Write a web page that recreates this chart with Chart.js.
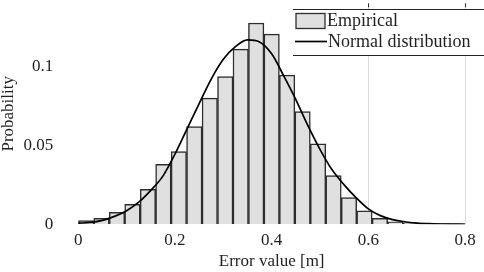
<!DOCTYPE html>
<html>
<head>
<meta charset="utf-8">
<script src="https://cdn.jsdelivr.net/npm/chart.js@4"></script>
<style>
  html, body { margin: 0; padding: 0; background: #fff; }
</style>
</head>
<body>
<canvas id="chart" width="484" height="272"></canvas>
<script>
// histogram bins (bin width 0.032 m)
const binCenters = [0.016, 0.048, 0.080, 0.112, 0.144, 0.176, 0.208, 0.240, 0.272, 0.304,
                    0.336, 0.368, 0.400, 0.432, 0.464, 0.496, 0.528, 0.560, 0.592, 0.624,
                    0.656, 0.688, 0.720, 0.752, 0.784];
const binProb = [0.0023, 0.0038, 0.0076, 0.0127, 0.0222, 0.0380, 0.0460, 0.0619, 0.0799, 0.0936,
                 0.1110, 0.1275, 0.1205, 0.0945, 0.0714, 0.0509, 0.0308, 0.0169, 0.0086, 0.0038,
                 0.0016, 0.0010, 0.0006, 0.0004, 0.0003];

// fitted normal curve
const curveX = [0, 0.025, 0.05, 0.075, 0.1, 0.125, 0.15, 0.175, 0.2, 0.225, 0.25, 0.275, 0.3,
                0.325, 0.35, 0.375, 0.4, 0.425, 0.45, 0.475, 0.5, 0.525, 0.55, 0.575, 0.6,
                0.625, 0.65, 0.675, 0.7, 0.725, 0.75, 0.775, 0.8];
const curveY = [0.0007, 0.0012, 0.0025, 0.0050, 0.0086, 0.0140, 0.0215, 0.0305, 0.0445, 0.0605,
                0.0765, 0.0920, 0.1045, 0.1125, 0.1168, 0.1155, 0.1080, 0.0940, 0.0790, 0.0625,
                0.0475, 0.0345, 0.0250, 0.0168, 0.0098, 0.0055, 0.0030, 0.0016, 0.0008, 0.0004,
                0.0002, 0.0001, 0.0000];

const xTicks = [0, 0.2, 0.4, 0.6, 0.8];
const yTicks = [0, 0.05, 0.1];

const seriesNames = ["Empirical", "Normal distribution"];

const barFill = "#e0e0e0";
const barEdge = "#2e2e2e";
const txt = "#1f1f1f";
const serif = '"Liberation Serif", "Times New Roman", serif';

Chart.defaults.font.family = serif;
Chart.defaults.color = txt;

// only the right-hand grid lines show in the original
const showGrid = v => v >= 0.6;

// legend box in the top right corner (only top and bottom rules)
const legendBox = {
    id: "legendBox",
    afterDraw(chart) {
        const c = chart.ctx;
        const xs = chart.scales.x;
        const top = chart.chartArea.top;
        c.save();

        // small inward tick marks on the top edge
        c.strokeStyle = "#333";
        c.lineWidth = 1;
        c.beginPath();
        xTicks.filter(showGrid).forEach(v => {
            const px = Math.round(xs.getPixelForValue(v)) + 0.5;
            c.moveTo(px, top); c.lineTo(px, top + 4);
        });
        c.stroke();

        const x0 = 293, y0 = 9, y1 = 55;
        c.fillStyle = "#fff";
        c.fillRect(x0, y0, chart.width - x0, y1 - y0);
        c.strokeStyle = "#222";
        c.beginPath();
        c.moveTo(x0, y0 + 0.5); c.lineTo(chart.width, y0 + 0.5);
        c.moveTo(x0, y1 + 0.5); c.lineTo(chart.width, y1 + 0.5);
        c.stroke();

        // empirical swatch
        c.fillStyle = barFill;
        c.fillRect(296, 13.5, 29, 15);
        c.strokeStyle = barEdge;
        c.lineWidth = 1.3;
        c.strokeRect(296, 13.5, 29, 15);

        // normal line sample
        c.strokeStyle = "#000";
        c.lineWidth = 1.7;
        c.beginPath();
        c.moveTo(295, 41.5); c.lineTo(327, 41.5);
        c.stroke();

        c.fillStyle = txt;
        c.font = "18px " + serif;
        c.textBaseline = "middle";
        c.fillText(seriesNames[0], 327, 21);
        c.fillText(seriesNames[1], 328, 42);
        c.restore();
    }
};

new Chart(document.getElementById("chart"), {
    type: "bar",
    data: {
        datasets: [
            {
                type: "line",
                label: seriesNames[1],
                data: curveX.map((x, i) => ({ x: x, y: curveY[i] })),
                borderColor: "#000",
                borderWidth: 1.7,
                pointRadius: 0,
                cubicInterpolationMode: "monotone",
                fill: false,
                order: 0
            },
            {
                type: "bar",
                label: seriesNames[0],
                data: binCenters.map((x, i) => ({ x: x, y: binProb[i] })),
                backgroundColor: barFill,
                borderColor: barEdge,
                borderWidth: 1.5,
                barPercentage: 1,
                categoryPercentage: 1,
                grouped: false,
                order: 1
            }
        ]
    },
    options: {
        responsive: false,
        animation: false,
        devicePixelRatio: 1,
        layout: { padding: { top: 3.3, right: 19, bottom: 0, left: 0 } },
        plugins: { legend: { display: false }, tooltip: { enabled: false } },
        scales: {
            x: {
                type: "linear",
                min: 0,
                max: 0.8,
                offset: false,
                afterBuildTicks: s => { s.ticks = xTicks.map(v => ({ value: v })); },
                afterFit: s => { s.height = 47.7; s.paddingLeft = 0; s.paddingRight = 0; },
                ticks: {
                    font: { size: 17 },
                    color: txt,
                    padding: 6,
                    maxRotation: 0,
                    callback: v => String(v)
                },
                grid: {
                    offset: false,
                    drawTicks: false,
                    color: ctx => (ctx.tick && showGrid(ctx.tick.value)) ? "#d9d9d9" : "rgba(0,0,0,0)"
                },
                border: { display: false },
                title: {
                    display: true,
                    text: "Error value [m]",
                    font: { size: 17 },
                    color: txt,
                    padding: 0
                }
            },
            y: {
                min: 0,
                max: 0.14,
                afterBuildTicks: s => { s.ticks = yTicks.map(v => ({ value: v })); },
                // keep the tick padding from pushing the plot area down
                afterFit: s => { s.width = 78.3; s.paddingTop = 0; s.paddingBottom = 0; },
                ticks: {
                    font: { size: 17 },
                    color: txt,
                    padding: 25,
                    callback: v => String(v)
                },
                grid: { display: false, drawTicks: false },
                border: { display: false },
                title: {
                    display: true,
                    text: "Probability",
                    font: { size: 17, lineHeight: 1 },
                    color: txt,
                    padding: 0
                }
            }
        }
    },
    plugins: [legendBox]
});
</script>
</body>
</html>
